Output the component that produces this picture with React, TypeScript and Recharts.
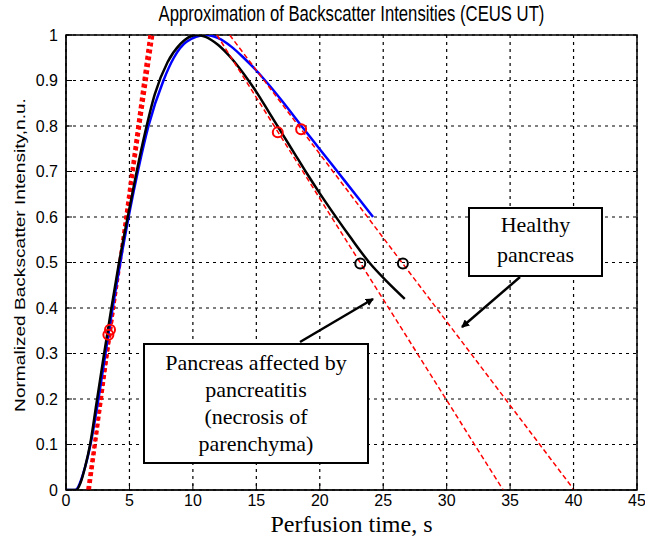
import React from "react";
import {
  ComposedChart,
  Line,
  Scatter,
  XAxis,
  YAxis,
  CartesianGrid,
  ReferenceArea,
} from "recharts";

// perfusion time, s / normalized intensity
const healthyTime = [0, 0.7, 1.5, 2, 2.5, 3, 3.5, 4, 4.5, 5, 5.7, 6.5, 7.68, 8.5, 9.5, 11, 12, 13, 14, 15, 16, 17, 18.7, 20, 21.5, 23, 24.2];
const healthyValue = [0, 0, 0.05, 0.11, 0.19, 0.28, 0.37, 0.455, 0.535, 0.61, 0.705, 0.8, 0.9, 0.95, 0.985, 1.0, 0.993, 0.975, 0.95, 0.922, 0.89, 0.856, 0.795, 0.749, 0.696, 0.643, 0.6];

const pancreatitisTime = [0, 0.8, 1.2, 1.5, 1.9, 2.4, 2.95, 3.55, 4.15, 4.9, 5.57, 6.23, 7.0, 8.0, 9.0, 10.3, 11, 12, 13, 14, 15, 16, 17, 18, 19, 20, 21.2, 22.5, 23.9, 25.3, 26.7];
const pancreatitisValue = [0, 0, 0.02, 0.05, 0.1, 0.19, 0.29, 0.395, 0.495, 0.605, 0.7, 0.785, 0.87, 0.94, 0.98, 1.0, 0.996, 0.978, 0.95, 0.915, 0.875, 0.83, 0.785, 0.74, 0.695, 0.652, 0.603, 0.552, 0.5, 0.458, 0.42];

// approximation lines (start/end points)
const riseA = [{ x: 1.7, y: 0 }, { x: 6.85, y: 1 }];
const riseB = [{ x: 1.85, y: 0 }, { x: 6.6, y: 1 }];
const fallPancreatitis = [{ x: 11.9, y: 1 }, { x: 34.45, y: 0 }];
const fallHealthy = [{ x: 12.9, y: 1 }, { x: 40.05, y: 0 }];

const redMarks = [
  { x: 3.47, y: 0.352 },
  { x: 3.34, y: 0.341 },
  { x: 16.69, y: 0.786 },
  { x: 18.53, y: 0.793 },
];
const blackMarks = [
  { x: 23.19, y: 0.498 },
  { x: 26.55, y: 0.498 },
];

const xTicks = [0, 5, 10, 15, 20, 25, 30, 35, 40, 45];
const yTicks = [0, 0.1, 0.2, 0.3, 0.4, 0.5, 0.6, 0.7, 0.8, 0.9, 1];

const toPoints = (xs: number[], ys: number[]) => xs.map((x, i) => ({ x, y: ys[i] }));
const healthy = toPoints(healthyTime, healthyValue);
const pancreatitis = toPoints(pancreatitisTime, pancreatitisValue);

const ring = (color: string) => (props: any) => (
  <circle cx={props.cx} cy={props.cy} r={5} fill="none" stroke={color} strokeWidth={2} />
);

const sans = "Arial, 'Liberation Sans', sans-serif";
const serif = "'Times New Roman', 'Liberation Serif', serif";
const tickFont = { fill: "#000", fontSize: 16, fontFamily: sans };
const blank = () => "";

const boxStyle: React.CSSProperties = {
  position: "absolute",
  border: "2px solid #000",
  background: "#fff",
  fontFamily: serif,
  fontSize: 22,
  lineHeight: "27px",
  textAlign: "center",
  boxSizing: "border-box",
  color: "#000",
};

export default function App() {
  return (
    <div style={{ position: "absolute", left: 0, top: 0, width: 645, height: 550, background: "#fff" }}>
      <ComposedChart
        width={645}
        height={550}
        margin={{ top: 35, right: 8, bottom: 0, left: 0 }}
      >
        <CartesianGrid stroke="#000" strokeDasharray="3 4" strokeWidth={1.2} />
        <XAxis
          type="number"
          dataKey="x"
          domain={[0, 45]}
          ticks={xTicks}
          height={60}
          stroke="#000"
          tickSize={-6}
          tickMargin={11}
          tick={tickFont}
          allowDataOverflow
        />
        <XAxis
          xAxisId="top"
          orientation="top"
          type="number"
          dataKey="x"
          domain={[0, 45]}
          ticks={xTicks}
          height={0}
          stroke="#000"
          tickSize={-6}
          tickFormatter={blank}
          allowDataOverflow
        />
        <YAxis
          type="number"
          domain={[0, 1]}
          ticks={yTicks}
          width={66}
          stroke="#000"
          tickSize={-6}
          tickMargin={14}
          tick={tickFont}
          allowDataOverflow
        />
        <YAxis
          yAxisId="right"
          orientation="right"
          type="number"
          domain={[0, 1]}
          ticks={yTicks}
          width={0}
          stroke="#000"
          tickSize={-6}
          tickFormatter={blank}
          allowDataOverflow
        />
        <ReferenceArea x1={0} x2={45} y1={0} y2={1} fill="none" stroke="#000" strokeWidth={1.5} />
        <Line data={riseA} dataKey="y" type="linear" stroke="#ff0000" strokeWidth={3} strokeDasharray="4 3" dot={false} isAnimationActive={false} />
        <Line data={riseB} dataKey="y" type="linear" stroke="#ff0000" strokeWidth={3} strokeDasharray="4 3" dot={false} isAnimationActive={false} />
        <Line data={healthy} dataKey="y" type="monotone" stroke="#0000ff" strokeWidth={2.5} dot={false} isAnimationActive={false} />
        <Line data={pancreatitis} dataKey="y" type="monotone" stroke="#000" strokeWidth={2.5} dot={false} isAnimationActive={false} />
        <Line data={fallPancreatitis} dataKey="y" type="linear" stroke="#ff0000" strokeWidth={1.5} strokeDasharray="5 3" dot={false} isAnimationActive={false} />
        <Line data={fallHealthy} dataKey="y" type="linear" stroke="#ff0000" strokeWidth={1.5} strokeDasharray="5 3" dot={false} isAnimationActive={false} />
        <Scatter data={redMarks} dataKey="y" shape={ring("#ff0000")} isAnimationActive={false} />
        <Scatter data={blackMarks} dataKey="y" shape={ring("#000")} isAnimationActive={false} />
      </ComposedChart>

      <div
        style={{
          position: "absolute",
          left: 66,
          width: 571,
          top: 4,
          height: 22,
          lineHeight: "22px",
          textAlign: "center",
          fontFamily: sans,
          fontSize: 16.7,
          color: "#000",
          transform: "scaleY(1.27)",
          whiteSpace: "nowrap",
        }}
      >
        Approximation of Backscatter Intensities (CEUS UT)
      </div>
      <div
        style={{
          position: "absolute",
          left: 66,
          width: 571,
          top: 512,
          height: 25,
          lineHeight: "25px",
          textAlign: "center",
          fontFamily: serif,
          fontSize: 24,
          color: "#000",
          whiteSpace: "nowrap",
        }}
      >
        Perfusion time, s
      </div>
      <div
        style={{
          position: "absolute",
          left: 20 - 200,
          top: 255 - 10,
          width: 400,
          height: 20,
          lineHeight: "20px",
          textAlign: "center",
          transform: "rotate(-90deg) scaleX(1.3)",
          fontFamily: sans,
          fontSize: 14.7,
          color: "#000",
          whiteSpace: "nowrap",
        }}
      >
        Normalized Backscatter Intensity,n.u.
      </div>

      <svg width={645} height={550} style={{ position: "absolute", left: 0, top: 0, pointerEvents: "none" }}>
        <defs>
          <marker id="head" markerWidth="8" markerHeight="8" refX="7" refY="4" orient="auto" markerUnits="userSpaceOnUse">
            <path d="M0,0 L8,4 L0,8 z" fill="#000" />
          </marker>
        </defs>
        <line x1={300} y1={342} x2={373} y2={299} stroke="#000" strokeWidth={2.5} markerEnd="url(#head)" />
        <line x1={520} y1={277} x2={462} y2={327} stroke="#000" strokeWidth={2.5} markerEnd="url(#head)" />
      </svg>

      <div style={{ ...boxStyle, left: 468, top: 207, width: 135, height: 70, paddingTop: 1, lineHeight: "30px" }}>
        Healthy
        <br />
        pancreas
      </div>
      <div style={{ ...boxStyle, left: 143, top: 343, width: 226, height: 121, paddingTop: 4 }}>
        Pancreas affected by
        <br />
        pancreatitis
        <br />
        (necrosis of
        <br />
        parenchyma)
      </div>
    </div>
  );
}
